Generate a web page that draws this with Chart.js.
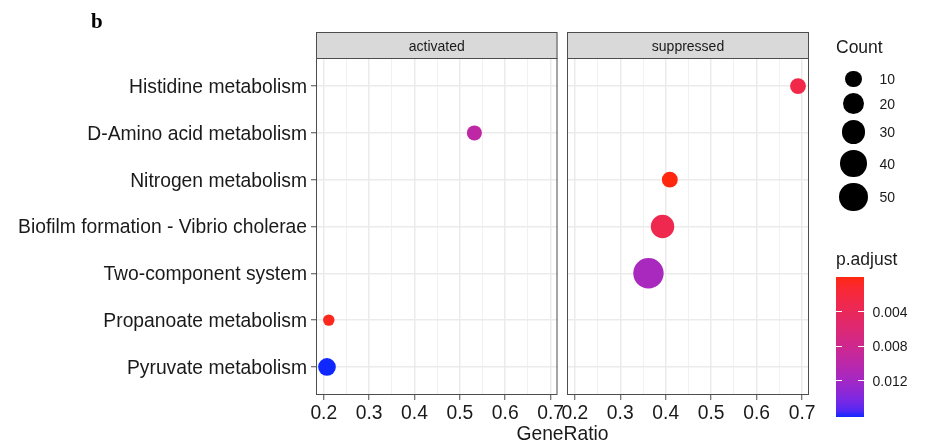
<!DOCTYPE html>
<html>
<head>
<meta charset="utf-8">
<script src="https://cdn.jsdelivr.net/npm/chart.js@4.4.0/dist/chart.umd.min.js"></script>
<style>
  html, body { margin: 0; padding: 0; background: #fff; }
  #wrap { position: relative; width: 930px; height: 448px; overflow: hidden; font-family: "Liberation Sans", Arial, sans-serif; color: #1a1a1a; }
  #wrap canvas { position: absolute; left: 0; top: 0; }
  .lbl { position: absolute; white-space: nowrap; line-height: 1; }
  .mid { transform: translateY(-50%); }
  .ctr { transform: translate(-50%, -50%); }
  .dot { position: absolute; border-radius: 50%; background: #000; }
  .tick { position: absolute; height: 1px; background: #fff; }
</style>
</head>
<body>
<div id="wrap">
  <canvas id="panelActivated" width="930" height="448"></canvas>
  <canvas id="panelSuppressed" width="930" height="448"></canvas>
  <div class="lbl" style="left:91px; top:9px; font: bold 21px 'Liberation Serif', 'Times New Roman', serif; color:#000;">b</div>
  <div class="lbl ctr" style="left:562.5px; top:433.5px; font-size:19.3px;">GeneRatio</div>
  <div id="legend"></div>
</div>
<script>
// ---- data ----
const pathways = [
  "Histidine metabolism",
  "D-Amino acid metabolism",
  "Nitrogen metabolism",
  "Biofilm formation - Vibrio cholerae",
  "Two-component system",
  "Propanoate metabolism",
  "Pyruvate metabolism"
];
const groups = ["activated", "suppressed"];
const pathwayGroup = ["suppressed", "activated", "suppressed", "suppressed", "suppressed", "activated", "activated"];
const geneRatio = [0.691, 0.532, 0.409, 0.393, 0.362, 0.211, 0.207];
const geneCount = [9, 8, 9, 28, 61, 6, 12];
const pAdjust = [0.0028, 0.0097, 0.00001, 0.0032, 0.0115, 0.0004, 0.0162];
const xTickValues = [0.2, 0.3, 0.4, 0.5, 0.6, 0.7];
const countBreaks = [10, 20, 30, 40, 50];
const pBreaks = [0.004, 0.008, 0.012];

// ---- styling helpers ----
const FONT = '"Liberation Sans", Arial, sans-serif';
const TEXT = '#1a1a1a';
const FRAME = '#4d4d4d';

// dot size: area-scaled, size range 3..8, about 1.9 px per size unit (radius)
const cMin = Math.min(...geneCount), cMax = Math.max(...geneCount);
function radiusFor(c) {
  const t = Math.max(0, (c - cMin) / (cMax - cMin));
  return 1.9 * (3 + 5 * Math.sqrt(t));
}

// colour: red (low p.adjust) to blue (high), interpolated in CIE Lab
const WHITE = [0.95047, 1, 1.08883];
function toLin(c) { c /= 255; return c <= 0.04045 ? c / 12.92 : Math.pow((c + 0.055) / 1.055, 2.4); }
function fromLin(c) {
  const v = c <= 0.0031308 ? 12.92 * c : 1.055 * Math.pow(c, 1 / 2.4) - 0.055;
  return Math.min(1, Math.max(0, v)) * 255;
}
function rgbToLab(rgb) {
  const R = toLin(rgb[0]), G = toLin(rgb[1]), B = toLin(rgb[2]);
  const X = 0.4124564 * R + 0.3575761 * G + 0.1804375 * B;
  const Y = 0.2126729 * R + 0.7151522 * G + 0.0721750 * B;
  const Z = 0.0193339 * R + 0.1191920 * G + 0.9503041 * B;
  const f = t => t > 0.008856 ? Math.cbrt(t) : 7.787 * t + 16 / 116;
  const fx = f(X / WHITE[0]), fy = f(Y / WHITE[1]), fz = f(Z / WHITE[2]);
  return [116 * fy - 16, 500 * (fx - fy), 200 * (fy - fz)];
}
function labToRgb(lab) {
  const fy = (lab[0] + 16) / 116, fx = fy + lab[1] / 500, fz = fy - lab[2] / 200;
  const inv = t => (t * t * t > 0.008856) ? t * t * t : (t - 16 / 116) / 7.787;
  const X = inv(fx) * WHITE[0], Y = inv(fy) * WHITE[1], Z = inv(fz) * WHITE[2];
  const R = 3.2404542 * X - 1.5371385 * Y - 0.4985314 * Z;
  const G = -0.9692660 * X + 1.8760108 * Y + 0.0415560 * Z;
  const B = 0.0556434 * X - 0.2040259 * Y + 1.0572252 * Z;
  return [fromLin(R), fromLin(G), fromLin(B)];
}
const LOW = rgbToLab([255, 0, 0]), HIGH = rgbToLab([0, 0, 255]);
// slightly softened print palette (channels never fully empty)
const FLOOR = [15, 40, 15];
const pMin = Math.min(...pAdjust), pMax = Math.max(...pAdjust);
function colorAt(t) {
  const lab = LOW.map((v, k) => v + (HIGH[k] - v) * t);
  const c = labToRgb(lab).map((v, k) => Math.round(FLOOR[k] + v * (255 - FLOOR[k]) / 255));
  return `rgb(${c[0]},${c[1]},${c[2]})`;
}
function colorFor(p) { return colorAt((p - pMin) / (pMax - pMin)); }

// x range with 5% expansion either side, shared by both panels
const gMin = Math.min(...geneRatio), gMax = Math.max(...geneRatio);
const xMin = gMin - 0.05 * (gMax - gMin), xMax = gMax + 0.05 * (gMax - gMin);
// major ticks plus minor grid lines half way between them
const xGrid = [];
xTickValues.forEach((v, i) => {
  xGrid.push({ value: v, minor: false });
  if (i < xTickValues.length - 1) xGrid.push({ value: +((v + xTickValues[i + 1]) / 2).toFixed(3), minor: true });
});

// strip header + panel frame
const panelFrame = {
  id: 'panelFrame',
  afterDraw(chart, args, opts) {
    const { ctx, chartArea: a } = chart;
    const stripTop = 32;
    ctx.save();
    ctx.fillStyle = '#D9D9D9';
    ctx.fillRect(a.left, stripTop, a.right - a.left, a.top - stripTop);
    ctx.strokeStyle = FRAME;
    ctx.lineWidth = 1;
    ctx.strokeRect(a.left + 0.5, stripTop + 0.5, a.right - a.left - 1, a.top - stripTop);
    ctx.strokeRect(a.left + 0.5, a.top + 0.5, a.right - a.left - 1, a.bottom - a.top - 1);
    ctx.fillStyle = TEXT;
    ctx.font = '14px ' + FONT;
    ctx.textAlign = 'center';
    ctx.textBaseline = 'alphabetic';
    ctx.fillText(opts.label, (a.left + a.right) / 2, 51);
    ctx.restore();
  }
};

function makePanel(canvasId, group, showLabels, padding) {
  const pts = [], colors = [];
  pathways.forEach((name, i) => {
    if (pathwayGroup[i] !== group) return;
    pts.push({ x: geneRatio[i], y: i + 1, r: radiusFor(geneCount[i]) });
    colors.push(colorFor(pAdjust[i]));
  });
  return new Chart(document.getElementById(canvasId), {
    type: 'bubble',
    data: {
      datasets: [{
        data: pts,
        backgroundColor: colors,
        hoverBackgroundColor: colors,
        borderWidth: 0,
        hoverBorderWidth: 0,
        clip: false
      }]
    },
    plugins: [panelFrame],
    options: {
      responsive: false,
      animation: false,
      events: [],
      layout: { padding: padding },
      plugins: {
        legend: { display: false },
        tooltip: { enabled: false },
        panelFrame: { label: group }
      },
      scales: {
        x: {
          type: 'linear',
          min: xMin,
          max: xMax,
          afterBuildTicks(s) { s.ticks = xGrid.map(t => ({ value: t.value, minor: t.minor })); },
          afterFit(s) { s.height = 53; s.paddingLeft = 0; s.paddingRight = 0; },
          border: { display: false },
          grid: {
            color: c => (c.tick && c.tick.minor) ? '#F1F1F1' : '#EBEBEB',
            lineWidth: c => (c.tick && c.tick.minor) ? 1 : 1.5,
            drawTicks: true,
            tickLength: 5,
            tickColor: c => (c.tick && c.tick.minor) ? 'rgba(0,0,0,0)' : FRAME,
            tickWidth: 1
          },
          ticks: {
            autoSkip: false,
            maxRotation: 0,
            minRotation: 0,
            padding: 2,
            color: TEXT,
            font: { family: FONT, size: 19.3 },
            callback: (v, i, ticks) => ticks[i].minor ? '' : v.toFixed(1)
          }
        },
        y: {
          type: 'linear',
          reverse: true,
          min: 1 - 0.6,
          max: pathways.length + 0.6,
          afterBuildTicks(s) { s.ticks = pathways.map((_, i) => ({ value: i + 1 })); },
          afterFit(s) { s.width = showLabels ? 316 : 0; s.paddingTop = 0; s.paddingBottom = 0; },
          border: { display: false },
          grid: {
            color: '#EBEBEB',
            lineWidth: 1.5,
            drawTicks: showLabels,
            tickLength: 5,
            tickColor: FRAME,
            tickWidth: 1
          },
          ticks: {
            display: showLabels,
            autoSkip: false,
            padding: 4,
            labelOffset: 1.5,
            color: TEXT,
            font: { family: FONT, size: 19.3 },
            callback: v => pathways[Math.round(v) - 1]
          }
        }
      }
    }
  });
}

makePanel('panelActivated', groups[0], true, { left: 0, top: 58, right: 372.5, bottom: 0 });
makePanel('panelSuppressed', groups[1], false, { left: 567, top: 58, right: 121, bottom: 0 });

// ---- legends ----
const legend = document.getElementById('legend');
function addLabel(text, x, y, size, cls) {
  const d = document.createElement('div');
  d.className = 'lbl ' + cls;
  d.style.left = x + 'px';
  d.style.top = y + 'px';
  d.style.fontSize = size + 'px';
  d.textContent = text;
  legend.appendChild(d);
}

// Count (size) legend
addLabel('Count', 836, 47.5, 17.5, 'mid');
let cy = 79.2;
countBreaks.forEach((c, i) => {
  const r = radiusFor(c);
  if (i > 0) cy += 6 + radiusFor(countBreaks[i - 1]) + r;
  const d = document.createElement('div');
  d.className = 'dot';
  d.style.left = (853.5 - r) + 'px';
  d.style.top = (cy - r) + 'px';
  d.style.width = d.style.height = (2 * r) + 'px';
  legend.appendChild(d);
  addLabel(String(c), 879.5, cy, 14, 'mid');
});

// p.adjust colour bar
addLabel('p.adjust', 836, 260.3, 17.5, 'mid');
const bar = { left: 836, top: 277, width: 28, height: 140 };
const stops = [];
for (let k = 0; k <= 20; k++) stops.push(colorAt(k / 20) + ' ' + (k * 5) + '%');
const barDiv = document.createElement('div');
barDiv.style.cssText = `position:absolute;left:${bar.left}px;top:${bar.top}px;width:${bar.width}px;height:${bar.height}px;background:linear-gradient(to bottom, ${stops.join(', ')});`;
legend.appendChild(barDiv);
pBreaks.forEach(p => {
  const y = bar.top + (p - pMin) / (pMax - pMin) * bar.height;
  [bar.left, bar.left + bar.width * 0.8].forEach(x => {
    const t = document.createElement('div');
    t.className = 'tick';
    t.style.left = x + 'px';
    t.style.top = (y - 0.5) + 'px';
    t.style.width = (bar.width * 0.2) + 'px';
    legend.appendChild(t);
  });
  addLabel(p.toFixed(3), 872.5, y, 14, 'mid');
});
</script>
</body>
</html>
